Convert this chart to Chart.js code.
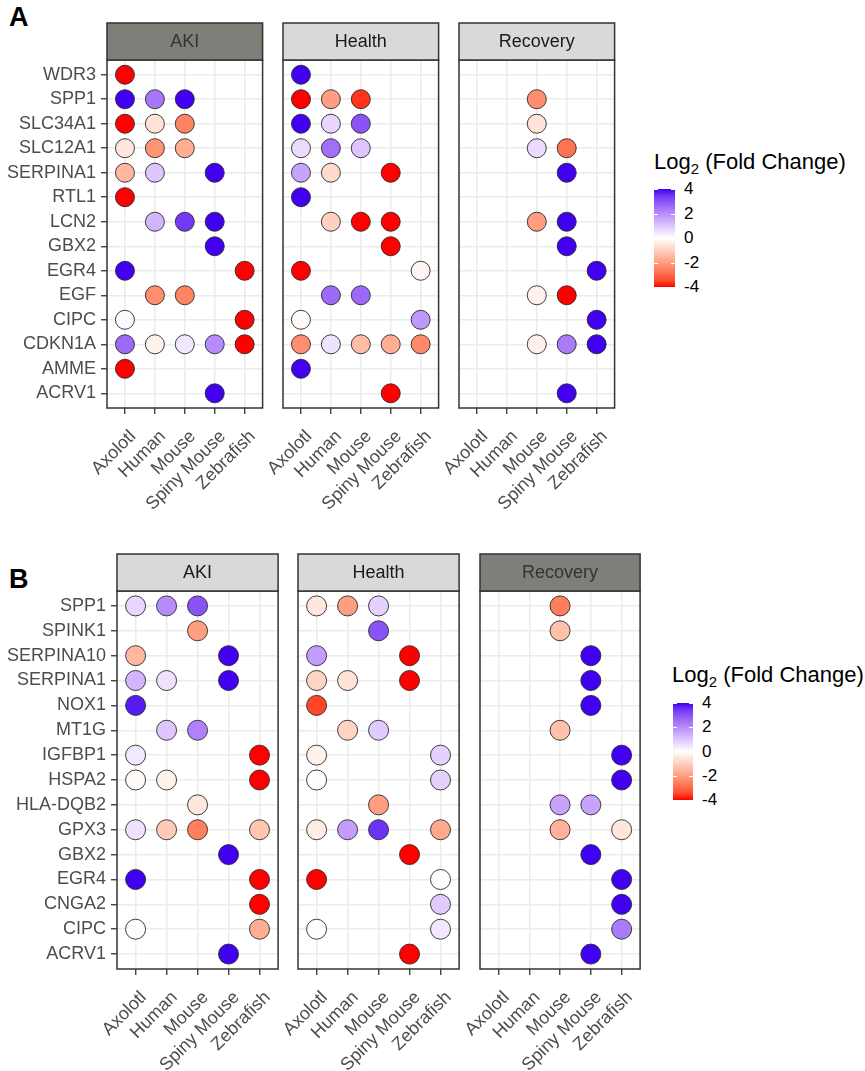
<!DOCTYPE html>
<html>
<head>
<meta charset="utf-8">
<script src="https://cdn.jsdelivr.net/npm/chart.js@4.4.1/dist/chart.umd.min.js"></script>
<style>
  body { margin: 0; width: 865px; height: 1071px; overflow: hidden; position: relative; background: #fff;
         font-family: "Liberation Sans", Arial, sans-serif; }
  canvas { position: absolute; }
  .tag { position: absolute; font-weight: bold; font-size: 27px; color: #000; line-height: 26px; }
  .lg-title { position: absolute; font-size: 22px; color: #000; white-space: nowrap; line-height: 24px; }
  .lg-title sub { font-size: 15px; vertical-align: -5px; line-height: 0; }
  .lg-bar { position: absolute; }
  .lg-lab { position: absolute; font-size: 17px; color: #000; line-height: 20px; }
  .lg-tick { position: absolute; height: 1px; width: 4px; background: #fff; }
</style>
</head>
<body>
<div class="tag" style="left:9px;top:4px">A</div>
<div class="tag" style="left:9px;top:566px">B</div>

<script>
const FONT = '"Liberation Sans", Arial, sans-serif';
const _ = null;

const species = ['Axolotl', 'Human', 'Mouse', 'Spiny Mouse', 'Zebrafish'];
const conditions = ['AKI', 'Health', 'Recovery'];

const genesA = ['WDR3', 'SPP1', 'SLC34A1', 'SLC12A1', 'SERPINA1', 'RTL1', 'LCN2',
                'GBX2', 'EGR4', 'EGF', 'CIPC', 'CDKN1A', 'AMME', 'ACRV1'];
const genesB = ['SPP1', 'SPINK1', 'SERPINA10', 'SERPINA1', 'NOX1', 'MT1G', 'IGFBP1', 'HSPA2',
                'HLA-DQB2', 'GPX3', 'GBX2', 'EGR4', 'CNGA2', 'CIPC', 'ACRV1'];

// log2 fold change, one row per gene, columns = species (null = not shown)
const aAki = [
  [-4, _, _, _, _],
  [4, 2.4, 4, _, _],
  [-4, -0.6, -2.5, _, _],
  [-0.5, -2.2, -1.7, _, _],
  [-1.5, 1.0, _, 4, _],
  [-4, _, _, _, _],
  [_, 1.3, 3.4, 4, _],
  [_, _, _, 4, _],
  [4, _, _, _, -4],
  [_, -2.3, -2.5, _, _],
  [0.1, _, _, _, -4],
  [2.6, -0.3, 0.4, 2.0, -4],
  [-4, _, _, _, _],
  [_, _, _, 4, _]
];
const aHealth = [
  [4, _, _, _, _],
  [-4, -2.0, -3.7, _, _],
  [4, 0.7, 3.0, _, _],
  [0.6, 2.5, 1.0, _, _],
  [1.6, -0.8, _, -4, _],
  [4, _, _, _, _],
  [_, -1.0, -4, -4, _],
  [_, _, _, -4, _],
  [-4, _, _, _, -0.2],
  [_, 2.6, 2.6, _, _],
  [-0.1, _, _, _, 1.8],
  [-2.3, 0.5, -1.4, -1.7, -2.4],
  [4, _, _, _, _],
  [_, _, _, -4, _]
];
const aRecovery = [
  [_, _, _, _, _],
  [_, _, -2.3, _, _],
  [_, _, -0.6, _, _],
  [_, _, 0.6, -2.8, _],
  [_, _, _, 4, _],
  [_, _, _, _, _],
  [_, _, -2.0, 4, _],
  [_, _, _, 4, _],
  [_, _, _, _, 4],
  [_, _, -0.3, -4, _],
  [_, _, _, _, 4],
  [_, _, -0.3, 2.3, 4],
  [_, _, _, _, _],
  [_, _, _, 4, _]
];

const bAki = [
  [0.7, 2.0, 3.0, _, _],
  [_, _, -2.0, _, _],
  [-1.5, _, _, 4, _],
  [1.3, 0.5, _, 4, _],
  [3.8, _, _, _, _],
  [_, 1.0, 2.2, _, _],
  [0.4, _, _, _, -4],
  [-0.1, -0.3, _, _, -4],
  [_, _, -0.5, _, _],
  [0.5, -1.1, -2.6, _, -1.2],
  [_, _, _, 4, _],
  [4, _, _, _, -4],
  [_, _, _, _, -4],
  [-0.05, _, _, _, -1.7],
  [_, _, _, 4, _]
];
const bHealth = [
  [-0.5, -2.0, 0.8, _, _],
  [_, _, 3.0, _, _],
  [1.7, _, _, -4, _],
  [-0.9, -0.6, _, -4, _],
  [-3.5, _, _, _, _],
  [_, -0.9, 0.9, _, _],
  [-0.3, _, _, _, 0.8],
  [0.05, _, _, _, 0.8],
  [_, _, -2.0, _, _],
  [-0.4, 1.7, 3.5, _, -1.8],
  [_, _, _, -4, _],
  [-4, _, _, _, 0],
  [_, _, _, _, 0.9],
  [0.05, _, _, _, 0.4],
  [_, _, _, -4, _]
];
const bRecovery = [
  [_, _, -2.6, _, _],
  [_, _, -1.3, _, _],
  [_, _, _, 4, _],
  [_, _, _, 4, _],
  [_, _, _, 4, _],
  [_, _, -1.3, _, _],
  [_, _, _, _, 4],
  [_, _, _, _, 4],
  [_, _, 1.6, 1.6, _],
  [_, _, -1.6, _, -0.5],
  [_, _, _, 4, _],
  [_, _, _, _, 4],
  [_, _, _, _, 4],
  [_, _, _, _, 2.3],
  [_, _, _, 4, _]
];

const legendTicks = [4, 2, 0, -2, -4];

// --- colour scale: red - white - blue, interpolated in Lab like ggplot ---
function hexToRgb(h) {
  return [1, 3, 5].map(i => parseInt(h.substr(i, 2), 16));
}
function rgbToLab(rgb) {
  const lin = rgb.map(c => { c /= 255; return c <= 0.04045 ? c / 12.92 : Math.pow((c + 0.055) / 1.055, 2.4); });
  const [r, g, b] = lin;
  const X = (0.4124 * r + 0.3576 * g + 0.1805 * b) / 0.95047;
  const Y = (0.2126 * r + 0.7152 * g + 0.0722 * b);
  const Z = (0.0193 * r + 0.1192 * g + 0.9505 * b) / 1.08883;
  const f = t => t > 0.008856 ? Math.cbrt(t) : 7.787 * t + 16 / 116;
  const fx = f(X), fy = f(Y), fz = f(Z);
  return [116 * fy - 16, 500 * (fx - fy), 200 * (fy - fz)];
}
function labToRgb(lab) {
  const fy = (lab[0] + 16) / 116, fx = fy + lab[1] / 500, fz = fy - lab[2] / 200;
  const inv = t => t * t * t > 0.008856 ? t * t * t : (t - 16 / 116) / 7.787;
  const X = 0.95047 * inv(fx), Y = inv(fy), Z = 1.08883 * inv(fz);
  const lin = [
    3.2406 * X - 1.5372 * Y - 0.4986 * Z,
    -0.9689 * X + 1.8758 * Y + 0.0415 * Z,
    0.0557 * X - 0.2040 * Y + 1.0570 * Z
  ];
  return lin.map(c => {
    c = c <= 0.0031308 ? 12.92 * c : 1.055 * Math.pow(c, 1 / 2.4) - 0.055;
    return Math.round(Math.max(0, Math.min(1, c)) * 255);
  });
}
const LOW = rgbToLab(hexToRgb('#ff0000'));
const MID = rgbToLab([255, 255, 255]);
const HIGH = rgbToLab(hexToRgb('#4200f0'));

function fcColor(v) {
  const t = Math.max(-1, Math.min(1, v / 4));
  const end = t < 0 ? LOW : HIGH;
  const f = Math.abs(t);
  const rgb = labToRgb(MID.map((m, i) => m + (end[i] - m) * f));
  return 'rgb(' + rgb.join(',') + ')';
}

// strip on top + panel border
const facetDecor = {
  id: 'facetDecor',
  afterDatasetsDraw(chart, args, o) {
    const { ctx, chartArea: a } = chart;
    const w = a.right - a.left;
    ctx.save();
    ctx.lineWidth = 1.5;
    ctx.strokeStyle = '#333';
    ctx.strokeRect(a.left, a.top, w, a.bottom - a.top);
    ctx.fillStyle = o.fill;
    ctx.fillRect(a.left, a.top - o.height, w, o.height);
    ctx.strokeRect(a.left, a.top - o.height, w, o.height);
    ctx.fillStyle = o.color;
    ctx.font = '18px ' + FONT;
    ctx.textAlign = 'center';
    ctx.textBaseline = 'middle';
    ctx.fillText(o.text, a.left + w / 2, a.top - o.height / 2 + 1);
    ctx.restore();
  }
};

function makeFacet(f) {
  const canvasLeft = f.showY ? 0 : f.left - 70;
  const canvasTop = f.stripTop - 1;
  const yWidth = f.left - canvasLeft;
  const W = f.right - canvasLeft + 2;
  const H = f.plotBottom - canvasTop + f.xH;

  const cv = document.createElement('canvas');
  cv.width = W; cv.height = H;
  cv.style.left = canvasLeft + 'px';
  cv.style.top = canvasTop + 'px';
  cv.style.width = W + 'px';
  cv.style.height = H + 'px';
  document.body.appendChild(cv);

  const points = [];
  f.rows.forEach((row, gi) => row.forEach((v, si) => {
    if (v !== null) points.push({ x: si, y: gi, v: v });
  }));

  new Chart(cv, {
    type: 'scatter',
    data: {
      datasets: [{
        data: points,
        pointRadius: f.radius,
        pointHoverRadius: f.radius,
        pointBorderWidth: 0.9,
        pointBorderColor: '#2a2a2a',
        pointBackgroundColor: ctx => ctx.raw ? fcColor(ctx.raw.v) : '#fff'
      }]
    },
    options: {
      responsive: false,
      animation: false,
      events: [],
      layout: { padding: { top: f.plotTop - canvasTop, right: 2, left: 0, bottom: 0 } },
      plugins: {
        legend: { display: false },
        tooltip: { enabled: false },
        facetDecor: { text: f.label, fill: f.dark ? '#7f7f79' : '#d9d9d9',
                      color: f.dark ? '#333' : '#1a1a1a', height: f.plotTop - f.stripTop }
      },
      scales: {
        x: {
          type: 'linear',
          min: -0.6, max: species.length - 0.4,
          afterBuildTicks: s => { s.ticks = species.map((n, i) => ({ value: i })); },
          afterFit: s => { s.height = f.xH; s.paddingLeft = 0; s.paddingRight = 0; s.paddingTop = 0; s.paddingBottom = 0; },
          ticks: {
            callback: v => species[v],
            autoSkip: false, minRotation: 45, maxRotation: 45,
            color: '#4d4d4d', font: { family: FONT, size: 18 }, padding: 12, labelOffset: 8
          },
          grid: { color: '#ebebeb', lineWidth: 1.5, tickColor: '#333', tickLength: 6, tickWidth: 1.3 },
          border: { display: false }
        },
        y: {
          type: 'linear',
          reverse: true,
          min: -0.6, max: f.genes.length - 0.4,
          afterBuildTicks: s => { s.ticks = f.genes.map((n, i) => ({ value: i })); },
          afterFit: s => { s.width = yWidth; s.paddingLeft = 0; s.paddingRight = 0; s.paddingTop = 0; s.paddingBottom = 0; },
          ticks: {
            display: f.showY,
            callback: v => f.genes[v],
            autoSkip: false,
            color: '#4d4d4d', font: { family: FONT, size: 18 }, padding: 5
          },
          grid: { color: '#ebebeb', lineWidth: 1.5, tickColor: '#333', tickLength: 6, tickWidth: 1.3,
                  drawTicks: f.showY },
          border: { display: false }
        }
      }
    },
    plugins: [facetDecor]
  });
}

function makeLegend(x, y, barX, barY, barW, barH, labX) {
  const t = document.createElement('div');
  t.className = 'lg-title';
  t.style.left = x + 'px'; t.style.top = y + 'px';
  t.innerHTML = 'Log<sub>2</sub> (Fold Change)';
  document.body.appendChild(t);

  const stops = [];
  for (let i = 0; i <= 16; i++) {
    const v = 4 - i * 0.5;
    stops.push(fcColor(v) + ' ' + (i / 16 * 100).toFixed(2) + '%');
  }
  const bar = document.createElement('div');
  bar.className = 'lg-bar';
  Object.assign(bar.style, { left: barX + 'px', top: barY + 'px', width: barW + 'px', height: barH + 'px',
    background: 'linear-gradient(to bottom, ' + stops.join(', ') + ')' });
  document.body.appendChild(bar);

  legendTicks.forEach(v => {
    const py = barY + (4 - v) / 8 * barH;
    const l = document.createElement('div');
    l.className = 'lg-lab';
    l.style.left = labX + 'px'; l.style.top = (py - 10) + 'px';
    l.textContent = String(v);
    document.body.appendChild(l);
    [barX, barX + barW - 4].forEach(tx => {
      const k = document.createElement('div');
      k.className = 'lg-tick';
      k.style.left = tx + 'px'; k.style.top = Math.round(py) + 'px';
      document.body.appendChild(k);
    });
  });
}

// Panel A
const colsA = [[107, 271], [283, 447], [459, 623]];
[aAki, aHealth, aRecovery].forEach((rows, i) => makeFacet({
  left: colsA[i][0], right: colsA[i][1], stripTop: 23, plotTop: 60, plotBottom: 408,
  genes: genesA, rows: rows, label: conditions[i], dark: i === 0, showY: i === 0, xH: 125, radius: 9.5
}));

// Panel B
const colsB = [[117, 287], [298, 468], [480, 649]];
[bAki, bHealth, bRecovery].forEach((rows, i) => makeFacet({
  left: colsB[i][0], right: colsB[i][1], stripTop: 554, plotTop: 591, plotBottom: 969,
  genes: genesB, rows: rows, label: conditions[i], dark: i === 2, showY: i === 0, xH: 102, radius: 10
}));

makeLegend(654, 150, 654, 189, 21, 98, 684);
makeLegend(672, 663, 673, 703, 20, 97, 702);
</script>
</body>
</html>
